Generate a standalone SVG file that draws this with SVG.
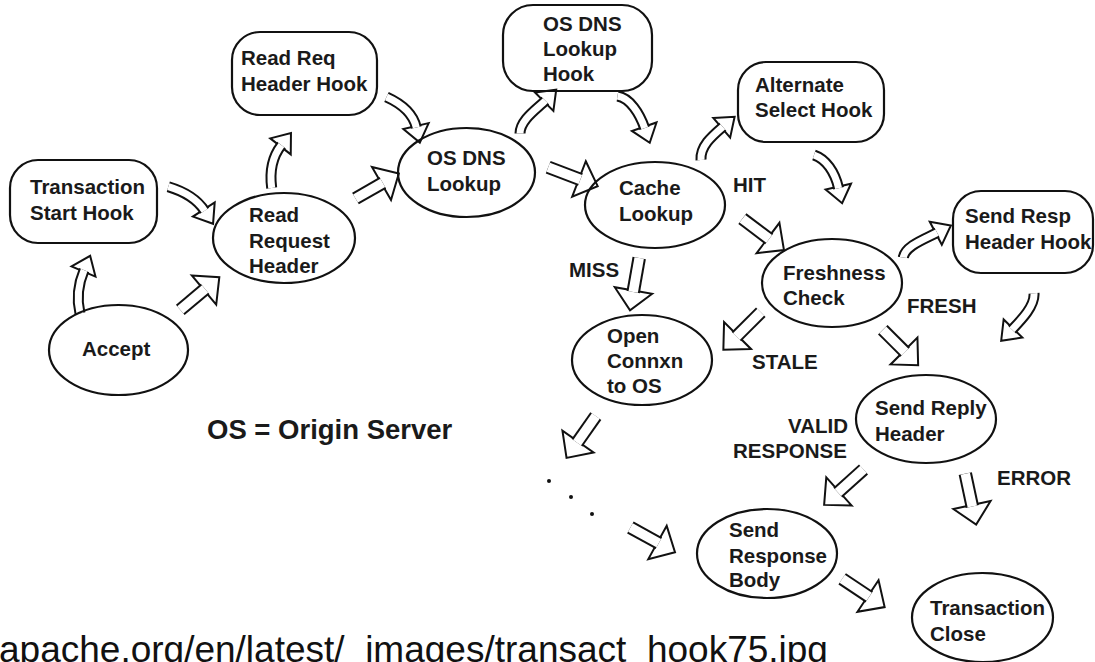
<svg xmlns="http://www.w3.org/2000/svg" xmlns:xlink="http://www.w3.org/1999/xlink" width="1095" height="662" viewBox="0 0 1095 662">
<style>
.node{fill:none;stroke:#111;stroke-width:2.2}
.t{font-family:"Liberation Sans",Arial,Helvetica,sans-serif;font-weight:bold;font-size:20.5px;fill:#1a1a1a}
.big{font-size:27.5px}
.foot{font-family:"Liberation Sans",Arial,Helvetica,sans-serif;font-size:37px;fill:#111}
.so{fill:none;stroke:#111;stroke-width:13.5;stroke-linecap:butt}
.si{fill:none;stroke:#fff;stroke-width:9.5;stroke-linecap:butt}
.co{fill:none;stroke:#111;stroke-width:11;stroke-linecap:butt}
.ci{fill:none;stroke:#fff;stroke-width:7;stroke-linecap:butt}
.hd{fill:#fff;stroke:#111;stroke-width:2;stroke-linejoin:miter}
</style>
<defs>
<path id="hs" d="M0,-19 L20,0 L0,19 Z"/>
<path id="hc" d="M0,-13 L17,0 L0,13 Z"/>
<path id="p1" d="M180.3,309.9 L205.1,289.0"/>
<path id="p2" d="M355.5,198.5 L382.8,182.8"/>
<path id="p3" d="M548.2,167.2 L580.4,179.5"/>
<path id="p4" d="M742.4,218.7 L769.2,238.9"/>
<path id="p5" d="M639.2,258 L633.2,292"/>
<path id="p6" d="M760.8,312.2 L736.4,336.6"/>
<path id="p7" d="M882.8,329.8 L905.1,352.1"/>
<path id="p8" d="M595.8,416.1 L577.1,442.7"/>
<path id="p9" d="M630.4,527.5 L658.8,543.2"/>
<path id="p10" d="M863.5,469.4 L837.9,492.5"/>
<path id="p11" d="M965.3,473.7 L972.3,506.5"/>
<path id="p12" d="M842.2,578.8 L869.2,596.8"/>
<path id="q1" d="M80,313.5 Q74.9,291.8 84.1,270.1"/>
<path id="q2" d="M168.3,186.7 Q194,194.4 204.6,210.8"/>
<path id="q3" d="M271.7,188 Q268.2,162.2 281.4,145.2"/>
<path id="q4" d="M386.5,97 Q412,108.5 416.3,127.5"/>
<path id="q5" d="M520,133.5 C520,120 537.1,108.8 545.3,100.6"/>
<path id="q6" d="M617.5,96 C630,98 639.6,113.5 644.7,128.1"/>
<path id="q7" d="M701,160 C700,146 712.6,135.6 722.8,126.8"/>
<path id="q8" d="M814,155 C826,159 834.9,172.1 838.6,188.2"/>
<path id="q9" d="M903.3,257.5 C905,246 925.2,238.9 937.1,232.6"/>
<path id="q10" d="M1034,293.3 C1035,306 1021.3,319.9 1012,329.6"/>
</defs>
<rect width="1095" height="662" fill="#fff"/>

<g id="connectors">
<g id="e-accept-rrh"><use xlink:href="#hs" class="hd" transform="translate(204 290) rotate(-40)"/><use xlink:href="#p1" class="so"/><use xlink:href="#p1" class="si"/></g>
<g id="e-rrh-dns"><use xlink:href="#hs" class="hd" transform="translate(381.5 183.5) rotate(-30)"/><use xlink:href="#p2" class="so"/><use xlink:href="#p2" class="si"/></g>
<g id="e-dns-cache"><use xlink:href="#hs" class="hd" transform="translate(579 179) rotate(21)"/><use xlink:href="#p3" class="so"/><use xlink:href="#p3" class="si"/></g>
<g id="e-cache-fresh"><use xlink:href="#hs" class="hd" transform="translate(768 238) rotate(37)"/><use xlink:href="#p4" class="so"/><use xlink:href="#p4" class="si"/></g>
<g id="e-cache-open"><use xlink:href="#hs" class="hd" transform="translate(633.5 290.5) rotate(100)"/><use xlink:href="#p5" class="so"/><use xlink:href="#p5" class="si"/></g>
<g id="e-fresh-open"><use xlink:href="#hs" class="hd" transform="translate(737.5 335.5) rotate(135)"/><use xlink:href="#p6" class="so"/><use xlink:href="#p6" class="si"/></g>
<g id="e-fresh-reply"><use xlink:href="#hs" class="hd" transform="translate(904 351) rotate(45)"/><use xlink:href="#p7" class="so"/><use xlink:href="#p7" class="si"/></g>
<g id="e-open-dots"><use xlink:href="#hs" class="hd" transform="translate(578 441.5) rotate(125)"/><use xlink:href="#p8" class="so"/><use xlink:href="#p8" class="si"/></g>
<g id="e-dots-body"><use xlink:href="#hs" class="hd" transform="translate(657.5 542.5) rotate(29)"/><use xlink:href="#p9" class="so"/><use xlink:href="#p9" class="si"/></g>
<g id="e-reply-body"><use xlink:href="#hs" class="hd" transform="translate(839 491.5) rotate(138)"/><use xlink:href="#p10" class="so"/><use xlink:href="#p10" class="si"/></g>
<g id="e-reply-close"><use xlink:href="#hs" class="hd" transform="translate(972 505) rotate(78)"/><use xlink:href="#p11" class="so"/><use xlink:href="#p11" class="si"/></g>
<g id="e-body-close"><use xlink:href="#hs" class="hd" transform="translate(868 596) rotate(33.7)"/><use xlink:href="#p12" class="so"/><use xlink:href="#p12" class="si"/></g>

<g id="e-accept-tsh"><use xlink:href="#hc" class="hd" transform="translate(83.5 271.5) rotate(-67)"/><use xlink:href="#q1" class="co"/><use xlink:href="#q1" class="ci"/></g>
<g id="e-tsh-rrh"><use xlink:href="#hc" class="hd" transform="translate(203.8 209.5) rotate(57)"/><use xlink:href="#q2" class="co"/><use xlink:href="#q2" class="ci"/></g>
<g id="e-rrh-rrhh"><use xlink:href="#hc" class="hd" transform="translate(280.5 146.4) rotate(-52)"/><use xlink:href="#q3" class="co"/><use xlink:href="#q3" class="ci"/></g>
<g id="e-rrhh-dns"><use xlink:href="#hc" class="hd" transform="translate(416 126) rotate(77)"/><use xlink:href="#q4" class="co"/><use xlink:href="#q4" class="ci"/></g>
<g id="e-dns-dnsh"><use xlink:href="#hc" class="hd" transform="translate(544.2 101.7) rotate(-45)"/><use xlink:href="#q5" class="co"/><use xlink:href="#q5" class="ci"/></g>
<g id="e-dnsh-cache"><use xlink:href="#hc" class="hd" transform="translate(644.2 126.7) rotate(71)"/><use xlink:href="#q6" class="co"/><use xlink:href="#q6" class="ci"/></g>
<g id="e-cache-ash"><use xlink:href="#hc" class="hd" transform="translate(721.7 127.8) rotate(-40.5)"/><use xlink:href="#q7" class="co"/><use xlink:href="#q7" class="ci"/></g>
<g id="e-ash-fresh"><use xlink:href="#hc" class="hd" transform="translate(838.3 186.7) rotate(77)"/><use xlink:href="#q8" class="co"/><use xlink:href="#q8" class="ci"/></g>
<g id="e-fresh-srhh"><use xlink:href="#hc" class="hd" transform="translate(935.8 233.3) rotate(-27.6)"/><use xlink:href="#q9" class="co"/><use xlink:href="#q9" class="ci"/></g>
<g id="e-srhh-reply"><use xlink:href="#hc" class="hd" transform="translate(1013 328.5) rotate(134)"/><use xlink:href="#q10" class="co"/><use xlink:href="#q10" class="ci"/></g>

<g id="dots" fill="#111"><circle cx="549" cy="481" r="2"/><circle cx="571" cy="497" r="2"/><circle cx="592" cy="514" r="2"/></g>

<g id="edge-labels" class="t">
<text x="733" y="192">HIT</text>
<text x="569" y="277">MISS</text>
<text x="907" y="313">FRESH</text>
<text x="752" y="369">STALE</text>
<text x="848" y="433" text-anchor="end">VALID</text>
<text x="733" y="458">RESPONSE</text>
<text x="997" y="485">ERROR</text>
</g>
</g>

<g id="n-tsh"><rect class="node" x="10" y="160" width="147" height="83" rx="28"/><text class="t" x="30" y="194">Transaction</text><text class="t" x="30" y="220">Start Hook</text></g>
<g id="n-accept"><ellipse class="node" cx="118.5" cy="350" rx="69.5" ry="45"/><text class="t" x="82" y="356">Accept</text></g>
<g id="n-rrh"><ellipse class="node" cx="284" cy="238" rx="71" ry="45"/><text class="t" x="249" y="222">Read</text><text class="t" x="249" y="248">Request</text><text class="t" x="249" y="273">Header</text></g>
<g id="n-rrhh"><rect class="node" x="232" y="32" width="145" height="83" rx="28"/><text class="t" x="241" y="65">Read Req</text><text class="t" x="241" y="91">Header Hook</text></g>
<g id="n-dns"><ellipse class="node" cx="466.5" cy="172.5" rx="68.5" ry="44.5"/><text class="t" x="427" y="165">OS DNS</text><text class="t" x="427" y="191">Lookup</text></g>
<g id="n-dnsh"><rect class="node" x="503" y="5" width="149" height="86" rx="30"/><text class="t" x="543" y="31">OS DNS</text><text class="t" x="543" y="56">Lookup</text><text class="t" x="543" y="81">Hook</text></g>
<g id="n-cache"><ellipse class="node" cx="655" cy="205" rx="70" ry="43"/><text class="t" x="619" y="195">Cache</text><text class="t" x="619" y="221">Lookup</text></g>
<g id="n-ash"><rect class="node" x="738" y="62" width="146" height="80" rx="28"/><text class="t" x="755" y="92">Alternate</text><text class="t" x="755" y="117">Select Hook</text></g>
<g id="n-fresh"><ellipse class="node" cx="832" cy="283" rx="70" ry="44"/><text class="t" x="783" y="280">Freshness</text><text class="t" x="783" y="305">Check</text></g>
<g id="n-srhh"><rect class="node" x="953" y="191" width="140" height="82" rx="28"/><text class="t" x="965" y="223">Send Resp</text><text class="t" x="965" y="249">Header Hook</text></g>
<g id="n-open"><ellipse class="node" cx="642" cy="360" rx="70" ry="45"/><text class="t" x="607" y="343">Open</text><text class="t" x="607" y="368">Connxn</text><text class="t" x="607" y="393">to OS</text></g>
<g id="n-reply"><ellipse class="node" cx="926" cy="419" rx="70" ry="44"/><text class="t" x="875" y="415">Send Reply</text><text class="t" x="875" y="441">Header</text></g>
<g id="n-body"><ellipse class="node" cx="767" cy="553.5" rx="70" ry="44.5"/><text class="t" x="729" y="537">Send</text><text class="t" x="729" y="563">Response</text><text class="t" x="729" y="587">Body</text></g>
<g id="n-close"><ellipse class="node" cx="982.5" cy="617.5" rx="70.5" ry="44.5"/><text class="t" x="930" y="615">Transaction</text><text class="t" x="930" y="641">Close</text></g>

<text class="t big" x="207" y="439">OS = Origin Server</text>
<text class="foot" x="-1" y="662">apache.org/en/latest/_images/transact_hook75.jpg</text>
</svg>
